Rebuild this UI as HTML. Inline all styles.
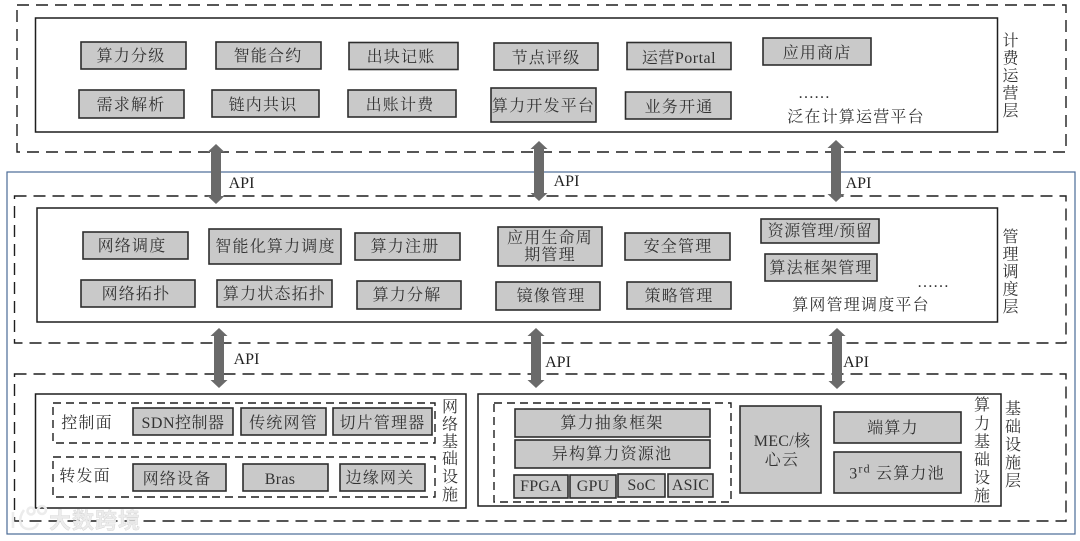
<!DOCTYPE html>
<html><head><meta charset="utf-8">
<style>
html,body{margin:0;padding:0;background:#fff;width:1080px;height:541px;overflow:hidden}
svg{display:block;filter:blur(.35px)}
text{font-family:"Liberation Serif","Noto Serif CJK SC",serif;fill:#333;font-size:16px;letter-spacing:1.2px;text-anchor:middle;dominant-baseline:central;transform:translateY(1.5px)}
.b{fill:#c9c9c9;stroke:#2e2e2e;stroke-width:1.6}
.s{fill:#fff;stroke:#1e1e1e;stroke-width:1.5}
.d{fill:none;stroke:#1e1e1e;stroke-width:1.4;stroke-dasharray:12 7}
.a{fill:#6a6a6a}
.api{font-size:16px;letter-spacing:0;fill:#222;transform:translateY(.5px)}
.v{letter-spacing:0}
</style></head><body>
<svg width="1080" height="541" viewBox="0 0 1080 541" xmlns="http://www.w3.org/2000/svg">
<rect x="7" y="172" width="1068" height="362" fill="#fff" stroke="#4a6a96" stroke-width="1.2"/>

<!-- dashed layers -->
<rect class="d" x="17" y="5" width="1049" height="147"/>
<rect class="d" x="14.5" y="196" width="1051.5" height="147"/>
<rect class="d" x="14.5" y="374" width="1051.5" height="147"/>

<!-- solid panels -->
<rect class="s" x="35.5" y="18" width="962" height="114"/>
<rect class="s" x="37" y="208" width="960.5" height="114"/>
<rect class="s" x="35.5" y="394" width="430.5" height="114"/>
<rect class="s" x="478" y="394" width="523" height="112"/>

<!-- arrows -->
<g class="a">
<path d="M216 144l8.500 8h-3.500v44h3.500l-8.500 8l-8.500-8h3.500v-44h-3.500z"/>
<path d="M539 141l8.500 8h-3.500v44h3.500l-8.500 8l-8.500-8h3.500v-44h-3.500z"/>
<path d="M836 140l8.500 8h-3.500v46h3.500l-8.500 8l-8.500-8h3.500v-46h-3.500z"/>
<path d="M219 328l8.500 8h-3.500v44h3.500l-8.500 8l-8.500-8h3.500v-44h-3.500z"/>
<path d="M536 328l8.500 8h-3.500v44h3.500l-8.500 8l-8.500-8h3.500v-44h-3.500z"/>
<path d="M837 328l8.500 8h-3.500v45h3.500l-8.500 8l-8.500-8h3.500v-45h-3.500z"/>
</g>
<text class="api" x="241.500" y="183">API</text>
<text class="api" x="566.500" y="181">API</text>
<text class="api" x="858.500" y="183">API</text>
<text class="api" x="246.500" y="359">API</text>
<text class="api" x="558" y="362">API</text>
<text class="api" x="856" y="362">API</text>

<!-- top layer boxes -->
<rect class="b" x="81" y="42" width="105" height="27"/><text x="131" y="55">算力分级</text>
<rect class="b" x="216" y="42" width="105" height="27"/><text x="268" y="55">智能合约</text>
<rect class="b" x="349" y="42.500" width="109" height="27"/><text x="401" y="56">出块记账</text>
<rect class="b" x="494" y="43" width="104" height="27"/><text x="546" y="57">节点评级</text>
<rect class="b" x="627" y="42.500" width="104" height="27"/><text x="679" y="57" style="letter-spacing:.5px">运营Portal</text>
<rect class="b" x="763" y="38" width="108" height="27"/><text x="817" y="52">应用商店</text>
<rect class="b" x="79" y="90" width="105" height="28"/><text x="131" y="104">需求解析</text>
<rect class="b" x="212" y="90" width="107" height="27"/><text x="263" y="104">链内共识</text>
<rect class="b" x="348" y="90" width="108" height="27"/><text x="400" y="104">出账计费</text>
<rect class="b" x="491" y="88" width="105" height="34"/><text x="543.500" y="105">算力开发平台</text>
<rect class="b" x="625.500" y="92" width="105.500" height="27"/><text x="679" y="106">业务开通</text>
<text x="814" y="92" style="letter-spacing:0">……</text>
<text x="856" y="116">泛在计算运营平台</text>
<text class="v" x="1010.500" y="40">计</text><text class="v" x="1010.500" y="57.500">费</text><text class="v" x="1010.500" y="75">运</text><text class="v" x="1010.500" y="92.500">营</text><text class="v" x="1010.500" y="110">层</text>

<!-- middle layer boxes -->
<rect class="b" x="83" y="232" width="105" height="27"/><text x="132" y="245">网络调度</text>
<rect class="b" x="209" y="229" width="132" height="35"/><text x="275.500" y="245.500">智能化算力调度</text>
<rect class="b" x="355" y="233" width="105" height="27"/><text x="405" y="245.500">算力注册</text>
<rect class="b" x="498" y="227" width="104" height="39"/><text x="550" y="237">应用生命周</text><text x="550" y="254">期管理</text>
<rect class="b" x="625" y="233" width="105" height="27"/><text x="678" y="245.500">安全管理</text>
<rect class="b" x="761" y="219" width="118" height="24"/><text x="820" y="230" style="letter-spacing:.6px">资源管理/预留</text>
<rect class="b" x="765" y="254" width="112" height="27"/><text x="821" y="267">算法框架管理</text>
<rect class="b" x="81" y="280" width="114" height="27"/><text x="136" y="293">网络拓扑</text>
<rect class="b" x="217" y="280" width="115" height="27"/><text x="274.500" y="293">算力状态拓扑</text>
<rect class="b" x="357" y="281" width="104" height="28"/><text x="407" y="294">算力分解</text>
<rect class="b" x="496" y="282" width="104" height="28"/><text x="551" y="295">镜像管理</text>
<rect class="b" x="627" y="282" width="104" height="27"/><text x="679" y="295">策略管理</text>
<text x="933" y="281" style="letter-spacing:0">……</text>
<text x="861" y="304">算网管理调度平台</text>
<text class="v" x="1010.500" y="236">管</text><text class="v" x="1010.500" y="253.500">理</text><text class="v" x="1010.500" y="271">调</text><text class="v" x="1010.500" y="288.500">度</text><text class="v" x="1010.500" y="306">层</text>

<!-- network infra -->
<rect class="d" x="53" y="403" width="382" height="40" style="stroke-dasharray:8 5"/>
<rect class="d" x="53" y="457" width="382" height="40" style="stroke-dasharray:8 5"/>
<text x="87" y="422">控制面</text>
<text x="85" y="475">转发面</text>
<rect class="b" x="133" y="408" width="100" height="27"/><text x="183" y="422" style="letter-spacing:.5px">SDN控制器</text>
<rect class="b" x="241" y="408" width="85" height="27"/><text x="283.500" y="422">传统网管</text>
<rect class="b" x="333" y="408" width="99" height="27"/><text x="382.500" y="422">切片管理器</text>
<rect class="b" x="133" y="464" width="93" height="27"/><text x="177" y="478">网络设备</text>
<rect class="b" x="243" y="464" width="85" height="27"/><text x="280" y="478" style="letter-spacing:.3px">Bras</text>
<rect class="b" x="340" y="464" width="85" height="27"/><text x="380" y="477">边缘网关</text>
<text class="v" x="450" y="406">网</text><text class="v" x="450" y="423.500">络</text><text class="v" x="450" y="441">基</text><text class="v" x="450" y="458">础</text><text class="v" x="450" y="476">设</text><text class="v" x="450" y="494">施</text>

<!-- compute infra -->
<rect class="d" x="494" y="403" width="237" height="99" style="stroke-dasharray:8 5"/>
<rect class="b" x="515" y="409" width="195" height="28"/><text x="612" y="422">算力抽象框架</text>
<rect class="b" x="515" y="440" width="195" height="28"/><text x="612" y="453">异构算力资源池</text>
<rect class="b" x="514" y="475" width="54" height="23"/><text x="541" y="485" style="letter-spacing:.2px">FPGA</text>
<rect class="b" x="570" y="475" width="46" height="23"/><text x="593" y="485" style="letter-spacing:.2px">GPU</text>
<rect class="b" x="618" y="474" width="47" height="23"/><text x="641.500" y="484" style="letter-spacing:.2px">SoC</text>
<rect class="b" x="668" y="474" width="45" height="23"/><text x="690.500" y="484" style="letter-spacing:.2px">ASIC</text>
<rect class="b" x="740" y="406" width="81" height="87"/><text x="782" y="440" style="letter-spacing:.3px">MEC/核</text><text x="782" y="459">心云</text>
<rect class="b" x="834" y="412" width="127" height="31"/><text x="893" y="427">端算力</text>
<rect class="b" x="834" y="452" width="127" height="41"/><text x="897" y="472"><tspan>3</tspan><tspan dy="-5" font-size="12">rd</tspan><tspan dy="5"> 云算力池</tspan></text>
<text class="v" x="982" y="404">算</text><text class="v" x="982" y="423">力</text><text class="v" x="982" y="441">基</text><text class="v" x="982" y="459">础</text><text class="v" x="982" y="477">设</text><text class="v" x="982" y="495">施</text>
<text class="v" x="1013" y="408">基</text><text class="v" x="1013" y="426">础</text><text class="v" x="1013" y="444">设</text><text class="v" x="1013" y="462">施</text><text class="v" x="1013" y="480">层</text>

<!-- watermark -->
<g fill="none" stroke="#ececec" stroke-width="2.600">
<path d="M13 512v16M24 510c-6 8-5 19 5 19c6 0 8-3 9-6"/>
<circle cx="31" cy="511" r="3.500"/><circle cx="42" cy="510" r="4"/>
</g>
<text x="95" y="519.500" style="font-family:'Liberation Sans','Noto Sans CJK SC',sans-serif;font-size:22px;font-weight:700;letter-spacing:1px;fill:#ececec;stroke:#ccc;stroke-width:.3">大数跨境</text>
</svg>
</body></html>
